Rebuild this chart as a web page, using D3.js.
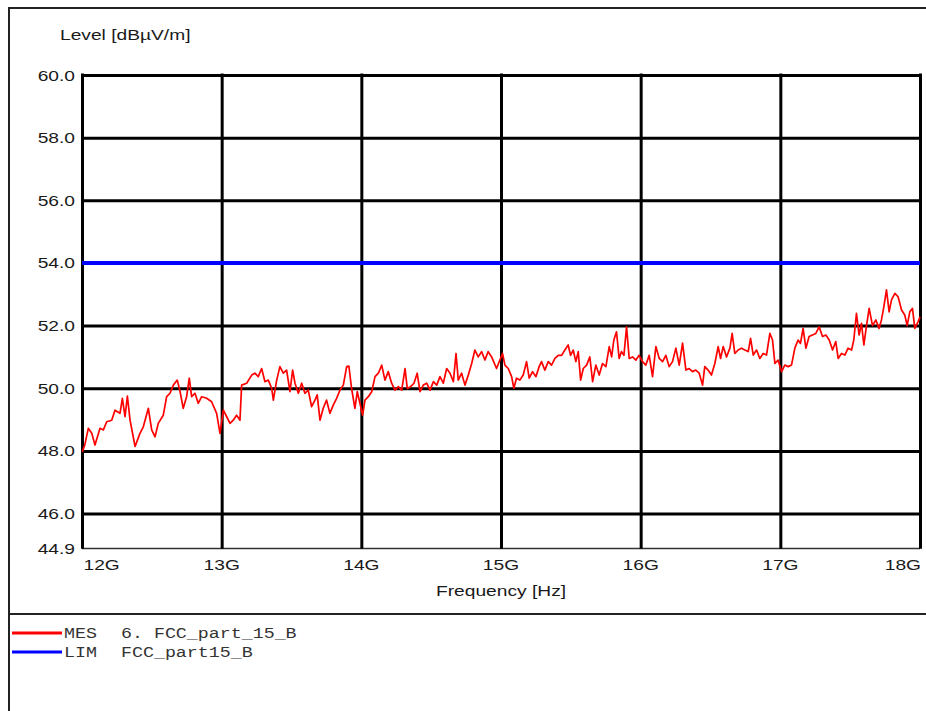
<!DOCTYPE html>
<html>
<head>
<meta charset="utf-8">
<script src="https://cdn.jsdelivr.net/npm/d3@7"></script>
<style>
body { margin: 0; background: #fff; }
svg { display: block; }
</style>
</head>
<body>
<div id="chart"></div>
<script>
var mesFreq = [
    12.002, 12.02, 12.045, 12.07, 12.093, 12.129, 12.153, 12.177, 12.213, 12.236,
    12.272, 12.289, 12.308, 12.325, 12.344, 12.38, 12.415, 12.439, 12.475, 12.499,
    12.523, 12.546, 12.582, 12.606, 12.63, 12.654, 12.682, 12.7, 12.725, 12.749,
    12.768, 12.785, 12.809, 12.832, 12.857, 12.893, 12.928, 12.964, 12.988, 13.012,
    13.036, 13.06, 13.083, 13.107, 13.131, 13.143, 13.179, 13.215, 13.238, 13.262,
    13.286, 13.31, 13.334, 13.358, 13.37, 13.394,
    13.417, 13.441, 13.465, 13.489, 13.508, 13.525, 13.549, 13.573, 13.596, 13.62,
    13.644, 13.668, 13.684, 13.704, 13.727, 13.751, 13.775, 13.799, 13.823, 13.847,
    13.871, 13.895, 13.911, 13.93, 13.954, 13.971, 13.99, 14.009, 14.026, 14.05,
    14.074, 14.098, 14.122, 14.146, 14.169, 14.193, 14.217, 14.241, 14.265, 14.289,
    14.313, 14.329, 14.353, 14.377, 14.4, 14.42, 14.444, 14.468, 14.492, 14.516,
    14.54, 14.563, 14.587, 14.611, 14.635, 14.659, 14.678, 14.694, 14.718, 14.742,
    14.766, 14.79, 14.813, 14.837, 14.861, 14.885, 14.908, 14.933,
    14.968, 14.992, 15.011, 15.028, 15.052, 15.076, 15.092, 15.111, 15.135, 15.159,
    15.183, 15.202, 15.226, 15.25, 15.273, 15.29, 15.314, 15.338, 15.362, 15.386,
    15.41, 15.434, 15.457, 15.481, 15.498, 15.517, 15.536, 15.553, 15.57, 15.589,
    15.613, 15.636, 15.656, 15.679, 15.703, 15.727, 15.751, 15.775, 15.792, 15.808,
    15.827, 15.846, 15.863, 15.88, 15.899, 15.918, 15.942, 15.966, 15.989, 16.013,
    16.037, 16.061, 16.085, 16.109, 16.133, 16.157, 16.18, 16.204, 16.228, 16.252,
    16.276, 16.3, 16.324, 16.347, 16.371, 16.395, 16.419, 16.443,
    16.459, 16.483, 16.507, 16.531, 16.555, 16.572, 16.591, 16.615, 16.639, 16.655,
    16.674, 16.698, 16.722, 16.746, 16.77, 16.787, 16.806, 16.83, 16.853, 16.877,
    16.901, 16.925, 16.944, 16.961, 16.984, 17.009, 17.032, 17.056, 17.08, 17.104,
    17.127, 17.144, 17.163, 17.183, 17.206, 17.23, 17.254, 17.278, 17.302, 17.326,
    17.35, 17.374, 17.397, 17.414, 17.438, 17.462, 17.485, 17.51, 17.526, 17.545,
    17.564, 17.581, 17.598, 17.617, 17.636, 17.66, 17.684, 17.707, 17.724, 17.741,
    17.76, 17.779, 17.796, 17.82, 17.843, 17.868, 17.891, 17.908, 17.927, 17.946,
    17.963, 17.986, 18.0
]
// measured trace, level in dBµV/m
var mesLevel = [
    47.97, 48.19, 48.72, 48.56, 48.19, 48.72, 48.67, 48.93, 48.98, 49.30,
    49.20, 49.68, 49.09, 49.75, 48.98, 48.14, 48.56, 48.77, 49.36, 48.67,
    48.45, 48.88, 49.14, 49.73, 49.84, 50.10, 50.26, 49.94, 49.36, 49.73,
    50.32, 49.73, 49.84, 49.52, 49.73, 49.68, 49.57, 49.20, 48.56, 49.30,
    49.09, 48.88, 48.98, 49.14, 48.98, 50.10, 50.16, 50.42, 50.48, 50.37,
    50.63, 50.21, 50.26, 50.00, 49.62, 50.26,
    50.69, 50.48, 50.58, 49.89, 50.58, 50.16, 49.84, 50.16, 49.84, 49.94,
    49.41, 49.62, 49.79, 48.98, 49.36, 49.62, 49.20, 49.46, 49.68, 49.94,
    50.10, 50.69, 50.71, 50.00, 49.36, 49.89, 49.52, 49.14, 49.62, 49.73,
    49.89, 50.37, 50.48, 50.74, 50.26, 50.53, 50.16, 49.94, 50.05, 49.94,
    50.63, 49.99, 50.05, 50.16, 50.48, 49.89, 50.10, 50.16, 49.94, 50.21,
    50.10, 50.37, 50.16, 50.63, 50.48, 50.21, 51.11, 50.26, 50.48, 50.10,
    50.42, 50.79, 51.22, 51.00, 51.17, 50.90, 51.17, 51.00,
    50.63, 50.90, 51.11, 50.74, 50.63, 50.37, 50.00, 50.32, 50.26, 50.42,
    50.85, 50.32, 50.53, 50.37, 50.69, 50.85, 50.58, 50.85, 50.74, 50.95,
    51.05, 51.05, 51.22, 51.38, 51.05, 51.22, 50.85, 51.17, 50.26, 50.63,
    50.74, 51.00, 50.21, 50.74, 50.42, 50.79, 50.69, 51.33, 51.00, 51.54,
    51.80, 50.95, 51.17, 51.05, 51.96, 50.95, 51.00, 50.90, 51.05, 50.85,
    50.74, 51.05, 50.37, 51.33, 50.95, 50.85, 51.05, 50.69, 50.85, 51.28,
    50.74, 51.44, 50.58, 50.63, 50.53, 50.58, 50.48, 50.10,
    50.69, 50.58, 50.42, 50.79, 51.33, 50.95, 51.33, 51.00, 51.28, 51.75,
    51.11, 51.22, 51.28, 51.22, 51.17, 51.59, 51.06, 51.22, 50.95, 51.11,
    51.06, 51.75, 51.54, 50.79, 50.90, 50.53, 50.74, 50.69, 50.74, 51.28,
    51.54, 51.43, 51.91, 51.28, 51.65, 51.70, 51.75, 51.96, 51.65, 51.70,
    51.54, 51.22, 51.49, 50.95, 51.11, 51.06, 51.28, 51.22, 51.54, 52.39,
    51.70, 52.07, 51.38, 52.00, 52.55, 52.00, 52.18, 51.91, 52.18, 52.60,
    53.14, 52.44, 52.82, 53.03, 52.92, 52.50, 52.34, 52.00, 52.44, 52.55,
    51.91, 52.12, 52.28
]
// limit line FCC part 15 B
var limFreq = [12, 18]
var limLevel = [54, 54]

// axis ticks and labels
var yTicks = [60, 58, 56, 54, 52, 50, 48, 46, 44.9]
var xTicks = [12, 13, 14, 15, 16, 17, 18]
var xTickLabels = ["12G", "13G", "14G", "15G", "16G", "17G", "18G"]

// legend entries
var legendKeys = ["MES", "LIM"]
var legendNames = ["6. FCC_part_15_B", "FCC_part15_B"]
var legendColors = ["#ff0000", "#0000ff"]

function createChart() {
    var w = 926
    var h = 711
    // plot area
    var left = 82, right = 920, top = 75, bottom = 548
    // the original print is stretched sideways
    var stretch = 1.28
    var sans = "'Liberation Sans', Arial, sans-serif"
    var mono = "'Liberation Mono', 'Courier New', monospace"

    var svg = d3.select("#chart").append("svg")
        .attr("width", w)
        .attr("height", h)

    var xScale = d3.scaleLinear().domain([12, 18]).range([left, right])
    var yScale = d3.scaleLinear().domain([44.9, 60]).range([bottom, top])

    // outer frame and legend separator
    svg.append("path")
        .attr("d", "M9," + (h + 5) + "V8H" + (w + 5))
        .attr("fill", "none")
        .attr("stroke", "#222")
        .attr("stroke-width", 2)
    svg.append("line")
        .attr("x1", 9).attr("x2", w + 5)
        .attr("y1", 614).attr("y2", 614)
        .attr("stroke", "#222")
        .attr("stroke-width", 2)

    // grid through the axis generators
    var yGrid = d3.axisLeft(yScale)
        .tickValues(yTicks)
        .tickSize(-(right - left))
        .tickFormat("")
    svg.append("g")
        .attr("class", "ygrid")
        .attr("transform", "translate(" + left + ",0)")
        .call(yGrid)

    var xGrid = d3.axisBottom(xScale)
        .tickValues(xTicks)
        .tickSize(-(bottom - top))
        .tickFormat("")
    svg.append("g")
        .attr("class", "xgrid")
        .attr("transform", "translate(0," + bottom + ")")
        .call(xGrid)

    svg.selectAll(".ygrid .domain, .xgrid .domain").remove()
    svg.selectAll(".ygrid line, .xgrid line")
        .attr("stroke", "#000")
        .attr("stroke-width", 3)
    svg.selectAll(".ygrid .tick line")
        .filter(function(d) { return d == 44.9 })
        .attr("stroke", "#333")
        .attr("stroke-width", 1.5)
    // extend grid ends so corners meet cleanly
    svg.selectAll(".xgrid .tick line").attr("y1", 0.8).attr("y2", -(bottom - top) - 1.5)

    // y labels
    svg.selectAll("text.ylab")
        .data(yTicks)
        .enter()
        .append("text")
        .attr("class", "ylab")
        .attr("transform", function(d) {
            return "translate(75," + (yScale(d) + 5.5) + ") scale(" + stretch + ",1)"
        })
        .attr("text-anchor", "end")
        .attr("font-family", sans)
        .attr("font-size", 15)
        .attr("fill", "#1a1a1a")
        .text(function(d) { return d.toFixed(1) })

    // x labels: first left, last right, others centred
    svg.selectAll("text.xlab")
        .data(xTicks)
        .enter()
        .append("text")
        .attr("class", "xlab")
        .attr("transform", function(d, i) {
            var x = xScale(d)
            if (i == 0) x += 1.5
            if (i == xTicks.length - 1) x += 1
            return "translate(" + x + ",570) scale(" + stretch + ",1)"
        })
        .attr("text-anchor", function(d, i) {
            return i == 0 ? "start" : (i == xTicks.length - 1 ? "end" : "middle")
        })
        .attr("font-family", sans)
        .attr("font-size", 15)
        .attr("fill", "#1a1a1a")
        .text(function(d, i) { return xTickLabels[i] })

    // axis titles
    svg.append("text")
        .attr("transform", "translate(60,40) scale(" + stretch + ",1)")
        .attr("font-family", sans)
        .attr("font-size", 15)
        .attr("fill", "#1a1a1a")
        .text("Level [dBµV/m]")

    svg.append("text")
        .attr("transform", "translate(501,596) scale(" + stretch + ",1)")
        .attr("text-anchor", "middle")
        .attr("font-family", sans)
        .attr("font-size", 15)
        .attr("fill", "#1a1a1a")
        .text("Frequency [Hz]")

    // limit line
    var line = d3.line()
        .x(function(d) { return xScale(d[0]) })
        .y(function(d) { return yScale(d[1]) })

    svg.append("path")
        .datum(d3.zip(limFreq, limLevel))
        .attr("d", line)
        .attr("fill", "none")
        .attr("stroke", "#0000ff")
        .attr("stroke-width", 4)

    // measured trace
    svg.append("path")
        .datum(d3.zip(mesFreq, mesLevel))
        .attr("d", line)
        .attr("fill", "none")
        .attr("stroke", "#ff0000")
        .attr("stroke-width", 1.7)
        .attr("stroke-linejoin", "round")

    // legend
    var legend = svg.selectAll("g.legend")
        .data(legendKeys)
        .enter()
        .append("g")
        .attr("class", "legend")
        .attr("transform", function(d, i) { return "translate(0," + (633 + i * 19) + ")" })

    legend.append("line")
        .attr("x1", 12).attr("x2", 62)
        .attr("y1", 0).attr("y2", 0)
        .attr("stroke", function(d, i) { return legendColors[i] })
        .attr("stroke-width", 3)

    legend.append("text")
        .attr("transform", "translate(64,4.5) scale(1.22,1)")
        .attr("font-family", mono)
        .attr("font-size", 15)
        .attr("fill", "#333")
        .text(function(d) { return d })

    legend.append("text")
        .attr("transform", "translate(121,4.5) scale(1.22,1)")
        .attr("font-family", mono)
        .attr("font-size", 15)
        .attr("fill", "#333")
        .text(function(d, i) { return legendNames[i] })
}

createChart()
</script>
</body>
</html>
